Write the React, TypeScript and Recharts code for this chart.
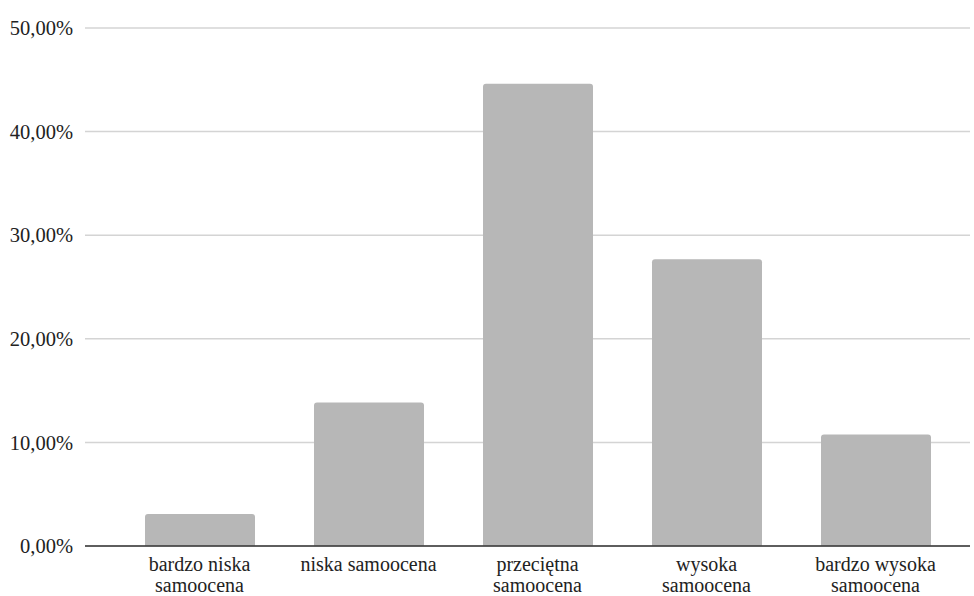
import { BarChart, Bar, XAxis, YAxis, CartesianGrid } from 'recharts';

const categories = [
  'bardzo niska\nsamoocena',
  'niska samoocena',
  'przeciętna\nsamoocena',
  'wysoka\nsamoocena',
  'bardzo wysoka\nsamoocena',
];
const shares = [0.0308, 0.1385, 0.4462, 0.2769, 0.1077];
const yTicks = [0, 0.1, 0.2, 0.3, 0.4, 0.5];

const data = categories.map((name, i) => ({ name, value: shares[i] }));

const FONT = '"Liberation Serif", "Times New Roman", serif';

const fmtPct = (v: number) => (v * 100).toFixed(2).replace('.', ',') + '%';

function CategoryTick({ x, y, payload }: any) {
  const lines = String(payload.value).split('\n');
  return (
    <text
      x={x}
      y={y + 25}
      textAnchor="middle"
      fill="#222"
      fontFamily={FONT}
      fontSize={20}
    >
      {lines.map((line, i) => (
        <tspan key={i} x={x} dy={i === 0 ? 0 : 21}>
          {line}
        </tspan>
      ))}
    </text>
  );
}

export default function App() {
  return (
    <div style={{ position: 'absolute', left: 0, top: 0, background: '#fff' }}>
      <BarChart
        width={974}
        height={596}
        data={data}
        margin={{ top: 28, right: 4, bottom: 0, left: 0 }}
      >
        <CartesianGrid vertical={false} stroke="#d4d4d4" strokeWidth={1.5} />
        <XAxis
          dataKey="name"
          interval={0}
          height={50}
          padding={{ left: 30, right: 10 }}
          tickLine={false}
          tickSize={0}
          tickMargin={0}
          axisLine={{ stroke: '#333', strokeWidth: 1.5 }}
          tick={<CategoryTick />}
        />
        <YAxis
          width={85}
          domain={[0, 0.5]}
          ticks={yTicks}
          tickFormatter={fmtPct}
          axisLine={false}
          tickLine={false}
          tickSize={0}
          tickMargin={12}
          tick={{ fill: '#222', fontFamily: FONT, fontSize: 20.5 }}
        />
        <Bar
          dataKey="value"
          fill="#b7b7b7"
          barSize={110}
          radius={[3, 3, 0, 0]}
          isAnimationActive={false}
        />
      </BarChart>
    </div>
  );
}
